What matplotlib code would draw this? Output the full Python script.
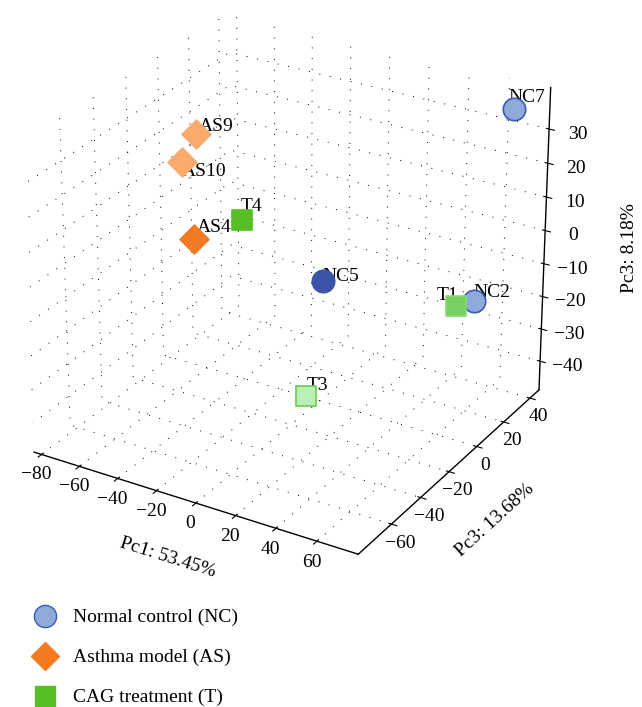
import numpy as np
import matplotlib.pyplot as plt
from matplotlib.transforms import offset_copy
from matplotlib.lines import Line2D

plt.rcParams['font.family'] = ['Liberation Serif', 'DejaVu Serif']
plt.rcParams['grid.color'] = 'black'
plt.rcParams['grid.linestyle'] = (0, (1, 10))
plt.rcParams['grid.linewidth'] = 0.7

# sample names and PCA scores
names = ['NC7', 'NC5', 'NC2', 'AS9', 'AS10', 'AS4', 'T4', 'T1', 'T3']
pc1 = [67, 1, 60, -64.5, -64, -74.5, -40.5, 54.5, 23]
pc2 = [40, 0, 25, 0, -10, 10, 0, 20, -40]
pc3 = [36, -12, -17, 22, 17, -14.5, 0, -17.7, -28.7]

x_ticks = [-80, -60, -40, -20, 0, 20, 40, 60]
y_ticks = [-60, -40, -20, 0, 20, 40]
z_ticks = [-40, -30, -20, -10, 0, 10, 20, 30]

face = ['#8fa9d9', '#3a55a8', '#8fa9d9', '#f9ab6e', '#f9ab6e', '#f27a22',
        '#55bf25', '#77d160', '#b8f0b8']
edge = ['#3a5bb5', '#3a55a8', '#3a5bb5', '#f9ab6e', '#f9ab6e', '#f27a22',
        '#55bf25', '#8ad87a', '#6ccc50']
marker = ['o', 'o', 'o', 'D', 'D', 'D', 's', 's', 's']
size = {'o': 260, 'D': 215, 's': 210}
# label offsets in points
offs = {'NC7': (-4, 5), 'NC5': (0, 0), 'NC2': (0, 3), 'AS9': (2, 2),
        'AS10': (0, -10), 'AS4': (2, 5), 'T4': (-1, 6), 'T1': (-14, 4),
        'T3': (0, 4)}

fig = plt.figure(figsize=(6.42, 7.07), dpi=100)
ax = fig.add_axes([-0.06, 0.17, 1.0, 0.87], projection='3d')
ax.set_box_aspect((4, 4, 3.65))
ax.view_init(elev=27, azim=-59)

for i in range(len(names)):
    dx, dy = offs[names[i]]
    ax.text(pc1[i], pc2[i], pc3[i], names[i], fontsize=14, zorder=2,
            transform=offset_copy(ax.transData, fig=fig, x=dx, y=dy, units='points'))
    ax.scatter(pc1[i], pc2[i], pc3[i], s=size[marker[i]], c=face[i],
               edgecolors=edge[i], marker=marker[i], linewidths=1.2,
               depthshade=False, alpha=1, zorder=3)
ax.computed_zorder = False

ax.set_xlim(-84, 80)
ax.set_ylim(-82, 47)
ax.set_zlim(-49, 42)
ax.set_xticks(x_ticks)
ax.set_yticks(y_ticks)
ax.set_zticks(z_ticks)
ax.tick_params(labelsize=14)
ax.tick_params(axis='x', pad=-2)
ax.tick_params(axis='y', pad=-2)
ax.tick_params(axis='z', pad=5)
ax.set_xlabel('Pc1: 53.45%', fontsize=14, labelpad=6)
ax.set_ylabel('Pc3: 13.68%', fontsize=14, labelpad=9)
ax.zaxis.set_ticks_position('upper')
fig.text(0.981, 0.649, 'Pc3: 8.18%', fontsize=14, rotation=90,
         ha='center', va='center')

for a in (ax.xaxis, ax.yaxis, ax.zaxis):
    a.set_pane_color((1, 1, 1, 0))
    a.pane.set_edgecolor('none')
    a.line.set_color('black')
    a.line.set_linewidth(1.0)

handles = [
    Line2D([], [], ls='none', marker='o', ms=16, mfc='#8fa9d9', mec='#3a5bb5'),
    Line2D([], [], ls='none', marker='D', ms=14, mfc='#f47a20', mec='#f47a20'),
    Line2D([], [], ls='none', marker='s', ms=15, mfc='#55bf25', mec='#55bf25'),
]
labels = ['Normal control (NC)', 'Asthma model (AS)', 'CAG treatment (T)']
fig.legend(handles, labels, loc='lower left', bbox_to_anchor=(0.012, -0.024),
           frameon=False, fontsize=14, labelspacing=1.15, handletextpad=0.45)

fig.savefig('out.png', dpi=100)
